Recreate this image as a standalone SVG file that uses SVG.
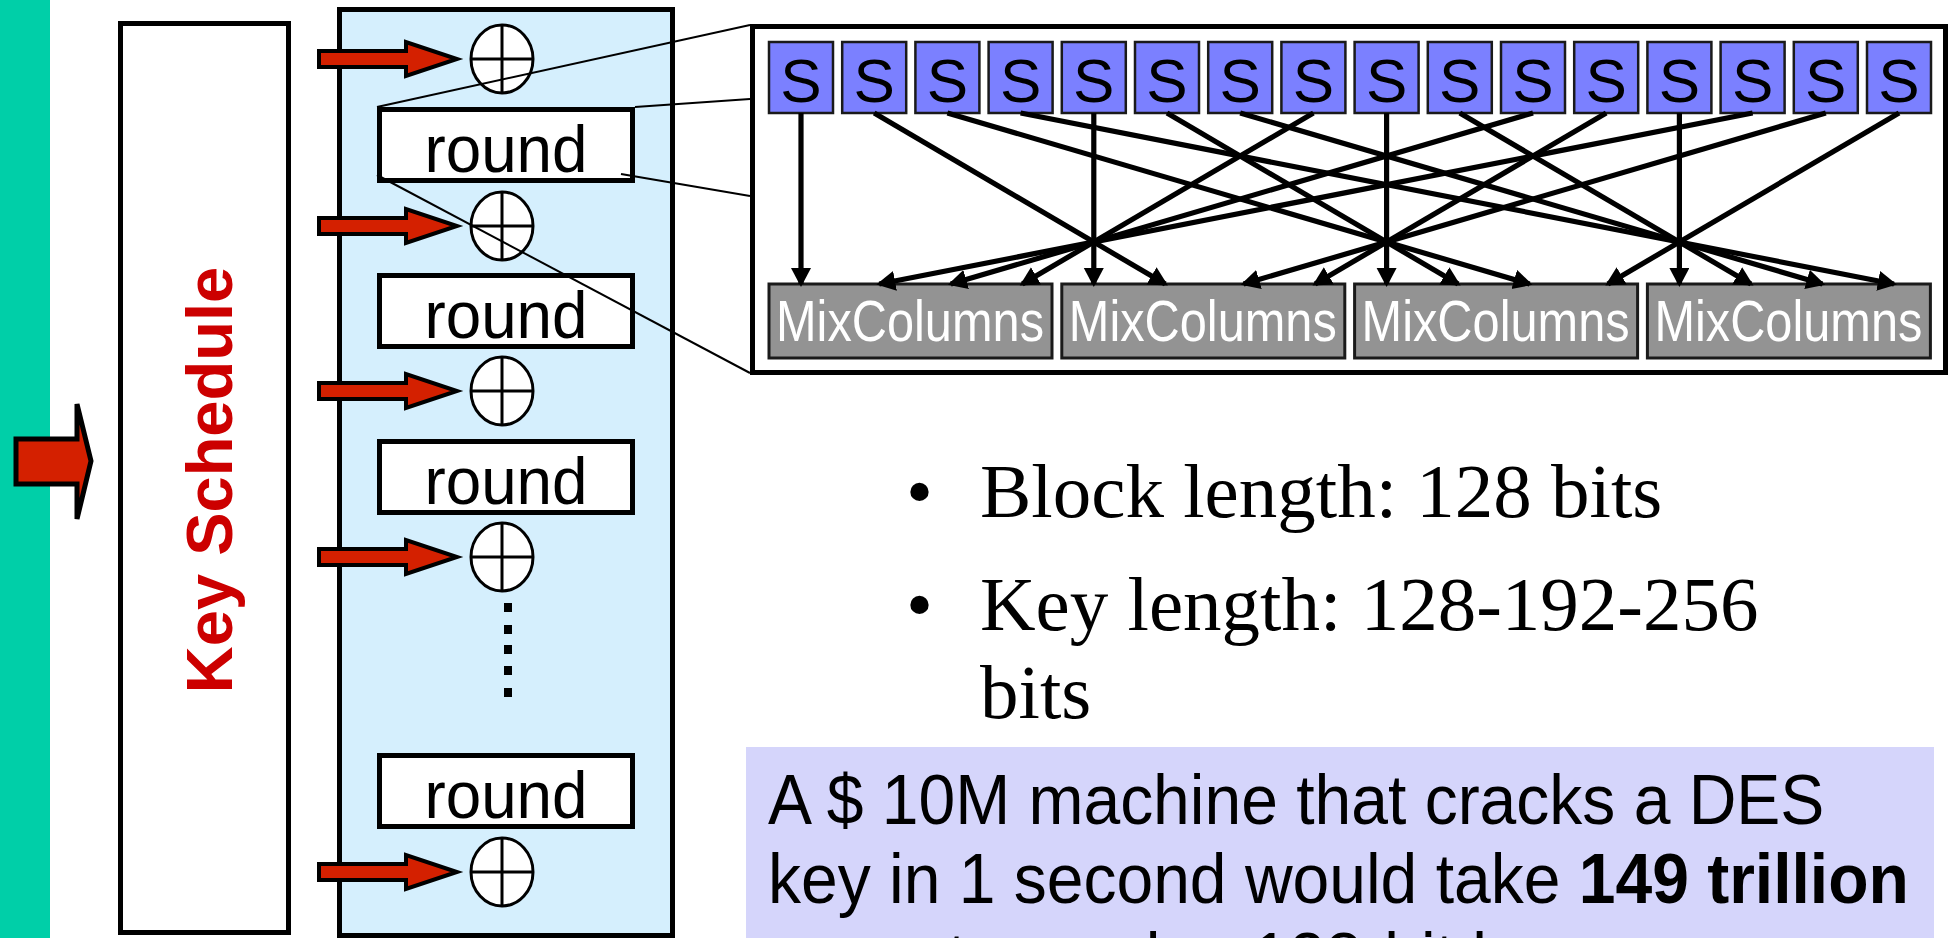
<svg xmlns="http://www.w3.org/2000/svg" xmlns:xlink="http://www.w3.org/1999/xlink" width="1957" height="938" viewBox="0 0 1957 938">
  <style>
    .sans { font-family: "Liberation Sans", Arial, sans-serif; }
    .serif { font-family: "Liberation Serif", "Times New Roman", serif; }
    .box { fill: #ffffff; stroke: #000000; stroke-width: 5; }
    .roundtxt { font-size: 66px; fill: #000000; text-anchor: middle; }
    .sbox rect { fill: #7b80ff; stroke: #1a1a1a; stroke-width: 2.5; }
    .sbox text { font-size: 62px; fill: #000000; text-anchor: middle; }
    .mix rect { fill: #939393; stroke: #1a1a1a; stroke-width: 3; }
    .mix text { font-size: 57px; fill: #ffffff; }
    .wire { stroke: #000000; stroke-width: 5.2; fill: none; marker-end: url(#ah); }
    .zoomline { stroke: #000000; stroke-width: 2; fill: none; }
    .keyarrow { fill: #d42000; stroke: #000000; stroke-width: 4; stroke-linejoin: miter; }
    .bullet { font-size: 77px; fill: #000000; }
    .note { font-size: 70px; fill: #000000; }
  </style>
  <defs>
    <!-- round-key injection arrow, centred on y = 0 -->
    <path id="keyArrow" class="keyarrow" d="M319,-8 H406 V-17 L457,0 L406,17 V8 H319 Z"/>
    <!-- XOR symbol -->
    <g id="xor">
      <ellipse cx="0" cy="0" rx="31" ry="34" fill="#ffffff" stroke="#000000" stroke-width="3"/>
      <line x1="0" y1="-34" x2="0" y2="34" stroke="#000000" stroke-width="3"/>
      <line x1="-31" y1="0" x2="31" y2="0" stroke="#000000" stroke-width="3"/>
    </g>
    <marker id="ah" markerUnits="userSpaceOnUse" markerWidth="22" markerHeight="22" refX="16" refY="10" orient="auto">
      <path d="M0,0 L19,10 L0,20 Z" fill="#000000"/>
    </marker>
  </defs>

  <rect width="1957" height="938" fill="#ffffff"/>

  <!-- slide side band -->
  <rect x="0" y="0" width="50" height="938" fill="#00cfa8"/>

  <!-- key input arrow -->
  <g id="key-input">
    <polygon points="16,439 77,439 77,404 91,461 77,519 77,484 16,484" fill="#d42000" stroke="#000000" stroke-width="5"/>
  </g>

  <!-- key schedule -->
  <g id="key-schedule">
    <rect class="box" x="120.5" y="23.5" width="168" height="909"/>
    <text class="sans" transform="translate(232,480) rotate(-90)" text-anchor="middle" font-size="65" font-weight="bold" fill="#cc0000">Key Schedule</text>
  </g>

  <!-- cipher datapath -->
  <g id="cipher">
    <rect x="339.5" y="9.5" width="333" height="926" fill="#d5effd" stroke="#000000" stroke-width="5"/>
  </g>

  <g id="round-1">
    <rect class="box" x="379.5" y="109.5" width="253" height="71"/>
    <text class="sans roundtxt" x="506" y="172" textLength="163" lengthAdjust="spacingAndGlyphs">round</text>
  </g>
  <g id="round-2">
    <rect class="box" x="379.5" y="275.5" width="253" height="71"/>
    <text class="sans roundtxt" x="506" y="338" textLength="163" lengthAdjust="spacingAndGlyphs">round</text>
  </g>
  <g id="round-3">
    <rect class="box" x="379.5" y="441.5" width="253" height="71"/>
    <text class="sans roundtxt" x="506" y="504" textLength="163" lengthAdjust="spacingAndGlyphs">round</text>
  </g>
  <g id="round-last">
    <rect class="box" x="379.5" y="755.5" width="253" height="71"/>
    <text class="sans roundtxt" x="506" y="818" textLength="163" lengthAdjust="spacingAndGlyphs">round</text>
  </g>

  <g id="xor-0"><use xlink:href="#xor" x="502" y="59"/></g>
  <g id="xor-1"><use xlink:href="#xor" x="502" y="226"/></g>
  <g id="xor-2"><use xlink:href="#xor" x="502" y="391"/></g>
  <g id="xor-3"><use xlink:href="#xor" x="502" y="557"/></g>
  <g id="xor-last"><use xlink:href="#xor" x="502" y="872"/></g>

  <g id="round-keys">
    <use xlink:href="#keyArrow" y="59"/>
    <use xlink:href="#keyArrow" y="226"/>
    <use xlink:href="#keyArrow" y="391"/>
    <use xlink:href="#keyArrow" y="557"/>
    <use xlink:href="#keyArrow" y="872"/>
  </g>

  <!-- elided rounds -->
  <g id="ellipsis" fill="#000000">
    <rect x="504" y="603" width="8" height="9"/>
    <rect x="504" y="625" width="8" height="9"/>
    <rect x="504" y="645" width="8" height="9"/>
    <rect x="504" y="666" width="8" height="9"/>
    <rect x="504" y="688" width="8" height="9"/>
  </g>

  <!-- round detail panel -->
  <g id="round-detail">
    <rect x="752.5" y="26.5" width="1193" height="346" fill="#ffffff" stroke="#000000" stroke-width="5"/>
  </g>

  <g id="sboxes" class="sbox sans">
    <g id="s0"><rect x="769" y="42" width="64" height="71"/><text x="801" y="102">S</text></g>
    <g id="s1"><rect x="842.2" y="42" width="64" height="71"/><text x="874.2" y="102">S</text></g>
    <g id="s2"><rect x="915.4" y="42" width="64" height="71"/><text x="947.4" y="102">S</text></g>
    <g id="s3"><rect x="988.6" y="42" width="64" height="71"/><text x="1020.6" y="102">S</text></g>
    <g id="s4"><rect x="1061.8" y="42" width="64" height="71"/><text x="1093.8" y="102">S</text></g>
    <g id="s5"><rect x="1135" y="42" width="64" height="71"/><text x="1167" y="102">S</text></g>
    <g id="s6"><rect x="1208.2" y="42" width="64" height="71"/><text x="1240.2" y="102">S</text></g>
    <g id="s7"><rect x="1281.4" y="42" width="64" height="71"/><text x="1313.4" y="102">S</text></g>
    <g id="s8"><rect x="1354.6" y="42" width="64" height="71"/><text x="1386.6" y="102">S</text></g>
    <g id="s9"><rect x="1427.8" y="42" width="64" height="71"/><text x="1459.8" y="102">S</text></g>
    <g id="s10"><rect x="1501" y="42" width="64" height="71"/><text x="1533" y="102">S</text></g>
    <g id="s11"><rect x="1574.2" y="42" width="64" height="71"/><text x="1606.2" y="102">S</text></g>
    <g id="s12"><rect x="1647.4" y="42" width="64" height="71"/><text x="1679.4" y="102">S</text></g>
    <g id="s13"><rect x="1720.6" y="42" width="64" height="71"/><text x="1752.6" y="102">S</text></g>
    <g id="s14"><rect x="1793.8" y="42" width="64" height="71"/><text x="1825.8" y="102">S</text></g>
    <g id="s15"><rect x="1867" y="42" width="64" height="71"/><text x="1899" y="102">S</text></g>
  </g>

  <g id="mixcolumns" class="mix sans">
    <g id="mc0"><rect x="769" y="284" width="283" height="74"/><text x="776" y="341" textLength="268" lengthAdjust="spacingAndGlyphs">MixColumns</text></g>
    <g id="mc1"><rect x="1061.8" y="284" width="283" height="74"/><text x="1068.8" y="341" textLength="268" lengthAdjust="spacingAndGlyphs">MixColumns</text></g>
    <g id="mc2"><rect x="1354.6" y="284" width="283" height="74"/><text x="1361.6" y="341" textLength="268" lengthAdjust="spacingAndGlyphs">MixColumns</text></g>
    <g id="mc3"><rect x="1647.4" y="284" width="283" height="74"/><text x="1654.4" y="341" textLength="268" lengthAdjust="spacingAndGlyphs">MixColumns</text></g>
  </g>

  <!-- ShiftRows wiring: S-box outputs to MixColumns inputs -->
  <g id="connectors">
    <line class="wire" x1="801" y1="113" x2="801" y2="284"/>
    <line class="wire" x1="874.2" y1="113" x2="1165.3" y2="284"/>
    <line class="wire" x1="947.4" y1="113" x2="1529.6" y2="284"/>
    <line class="wire" x1="1020.6" y1="113" x2="1893.9" y2="284"/>
    <line class="wire" x1="1093.8" y1="113" x2="1093.8" y2="284"/>
    <line class="wire" x1="1167" y1="113" x2="1458.1" y2="284"/>
    <line class="wire" x1="1240.2" y1="113" x2="1822.4" y2="284"/>
    <line class="wire" x1="1313.4" y1="113" x2="1022.3" y2="284"/>
    <line class="wire" x1="1386.6" y1="113" x2="1386.6" y2="284"/>
    <line class="wire" x1="1459.8" y1="113" x2="1750.9" y2="284"/>
    <line class="wire" x1="1533" y1="113" x2="950.8" y2="284"/>
    <line class="wire" x1="1606.2" y1="113" x2="1315.1" y2="284"/>
    <line class="wire" x1="1679.4" y1="113" x2="1679.4" y2="284"/>
    <line class="wire" x1="1752.6" y1="113" x2="879.3" y2="284"/>
    <line class="wire" x1="1825.8" y1="113" x2="1243.6" y2="284"/>
    <line class="wire" x1="1899" y1="113" x2="1607.9" y2="284"/>
  </g>

  <!-- magnification lines from the first round to its detail -->
  <g id="zoom-lines" class="zoomline">
    <line x1="377" y1="107" x2="750" y2="25"/>
    <line x1="635" y1="107" x2="750" y2="99"/>
    <line x1="621" y1="174" x2="750" y2="196"/>
    <line x1="377" y1="175" x2="750" y2="373"/>
  </g>

  <!-- parameters -->
  <g id="parameters" class="serif bullet">
    <text x="906" y="517">•</text>
    <text x="980" y="517">Block length: 128 bits</text>
    <text x="906" y="630">•</text>
    <text x="980" y="630">Key length: 128-192-256</text>
    <text x="980" y="718">bits</text>
  </g>

  <!-- brute-force note -->
  <g id="note">
    <rect x="746" y="747" width="1188" height="200" fill="#d5d5fb"/>
    <g class="sans note" transform="translate(768,0) scale(0.943,1)">
      <text x="0" y="824">A $ 10M machine that cracks a DES</text>
      <text x="0" y="903">key in 1 second would take <tspan font-weight="bold">149 trillion</tspan></text>
      <text x="0" y="982">years to crack a 128-bit key</text>
    </g>
  </g>
</svg>
